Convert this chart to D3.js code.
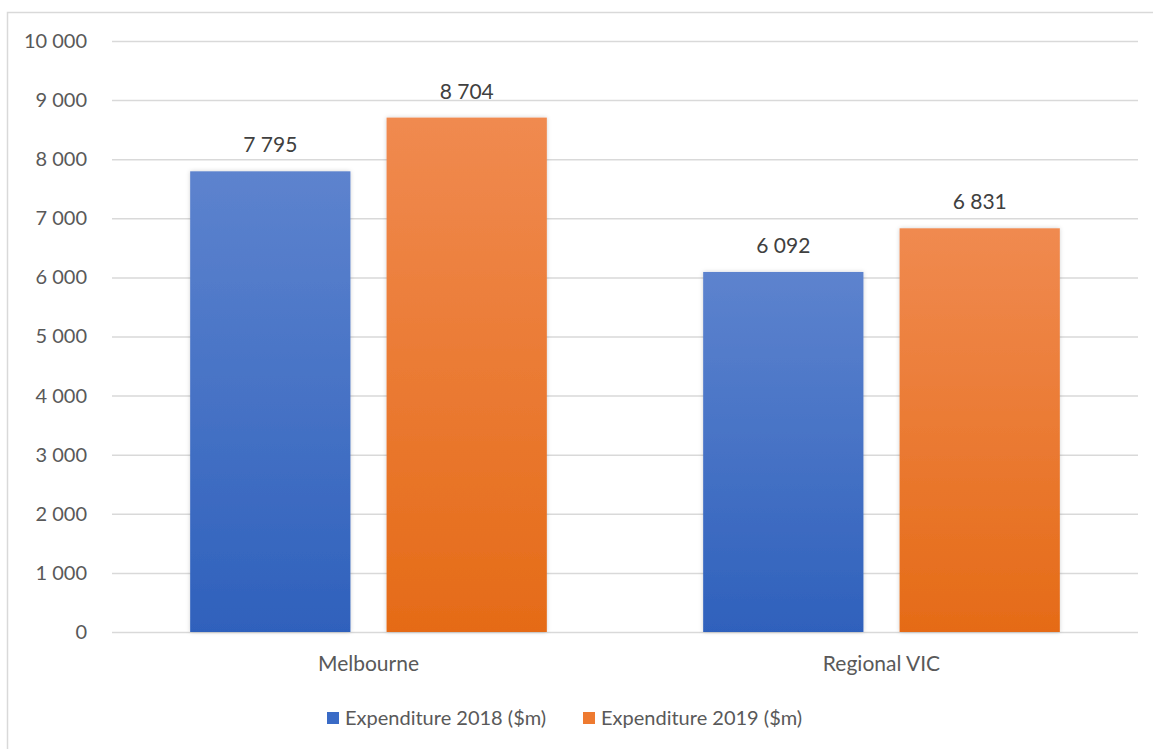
<!DOCTYPE html>
<html>
<head>
<meta charset="utf-8">
<script src="https://cdn.jsdelivr.net/npm/d3@7"></script>
<style>
  html, body { margin: 0; padding: 0; background: #fff; }
  svg { display: block; font-family: Lato, "Open Sans", sans-serif; }
</style>
</head>
<body>
<svg id="chart" width="1153" height="749"></svg>
<script>
// Expenditure by region, $m
const categories = ["Melbourne", "Regional VIC"];
const seriesNames = ["Expenditure 2018 ($m)", "Expenditure 2019 ($m)"];
const values2018 = [7795, 6092];
const values2019 = [8704, 6831];
const yTicks = [0, 1000, 2000, 3000, 4000, 5000, 6000, 7000, 8000, 9000, 10000];

const W = 1153, H = 749;
const margin = { left: 112, right: 15, top: 41, bottom: 117 };
const svg = d3.select("#chart");
const FONT = "Lato, 'Open Sans', sans-serif";

const fmt = v => d3.format(",")(v).replace(/,/g, " ");

// chart frame
svg.append("rect")
  .attr("x", 7.5).attr("y", 12.5)
  .attr("width", W + 10).attr("height", H + 10)
  .attr("fill", "#fff").attr("stroke", "#d9d9d9").attr("stroke-width", 1.5);

const defs = svg.append("defs");
const grads = [
  { id: "g2018", top: "#5d83ce", bottom: "#2f61bc" },
  { id: "g2019", top: "#f08a50", bottom: "#e56b17" }
];
grads.forEach(g => {
  const lg = defs.append("linearGradient").attr("id", g.id)
    .attr("x1", 0).attr("y1", 0).attr("x2", 0).attr("y2", 1);
  lg.append("stop").attr("offset", "0%").attr("stop-color", g.top);
  lg.append("stop").attr("offset", "100%").attr("stop-color", g.bottom);
});
const shadow = defs.append("filter").attr("id", "shadow")
  .attr("x", "-10%").attr("y", "-10%").attr("width", "120%").attr("height", "120%");
shadow.append("feDropShadow").attr("dx", 0).attr("dy", 0).attr("stdDeviation", 2)
  .attr("flood-color", "#000").attr("flood-opacity", 0.18);

const x0 = d3.scaleBand().domain(categories)
  .range([margin.left, W - margin.right]).paddingInner(0).paddingOuter(0);
const x1 = d3.scaleBand().domain([0, 1])
  .range([0, x0.bandwidth()]).paddingInner(0.184).paddingOuter(0.398);
const y = d3.scaleLinear().domain([0, 10000]).range([H - margin.bottom, margin.top]);

// gridlines + y labels
const yAxis = d3.axisLeft(y).tickValues(yTicks).tickFormat(fmt)
  .tickSize(-(W - margin.right - margin.left)).tickPadding(25);
const gy = svg.append("g").attr("transform", `translate(${margin.left},0)`).call(yAxis);
gy.select(".domain").remove();
gy.selectAll(".tick line").attr("stroke", "#d9d9d9").attr("stroke-width", 1.5);
gy.selectAll(".tick text").attr("fill", "#595959").attr("font-size", 20)
  .attr("font-family", FONT);

const series = [values2018, values2019];
const fills = ["url(#g2018)", "url(#g2019)"];

categories.forEach((c, ci) => {
  series.forEach((vals, si) => {
    const bx = x0(c) + x1(si);
    svg.append("rect")
      .attr("x", bx).attr("y", y(vals[ci]))
      .attr("width", x1.bandwidth()).attr("height", y(0) - y(vals[ci]))
      .attr("fill", fills[si]).attr("filter", "url(#shadow)");
    svg.append("text")
      .attr("x", bx + x1.bandwidth() / 2).attr("y", y(vals[ci]) - 19)
      .attr("text-anchor", "middle").attr("fill", "#404040").attr("font-size", 21)
      .attr("font-family", FONT)
      .text(fmt(vals[ci]));
  });
});

// x axis (category labels)
const xAxis = d3.axisBottom(x0).tickSize(0).tickPadding(24);
const gx = svg.append("g").attr("transform", `translate(0,${y(0)})`).call(xAxis);
gx.select(".domain").remove();
gx.selectAll(".tick text").attr("fill", "#595959").attr("font-size", 21)
  .attr("font-family", FONT);

// legend
const legendColors = ["#3a6bc6", "#ee7a30"];
const legendX = [327, 583];
seriesNames.forEach((name, i) => {
  const g = svg.append("g").attr("transform", `translate(${legendX[i]},718)`);
  g.append("rect").attr("x", 0).attr("y", -6).attr("width", 12).attr("height", 12)
    .attr("fill", legendColors[i]);
  g.append("text").attr("x", 18).attr("y", 0).attr("dy", "0.35em")
    .attr("fill", "#595959").attr("font-size", 20).attr("font-family", FONT).text(name);
});
</script>
</body>
</html>
